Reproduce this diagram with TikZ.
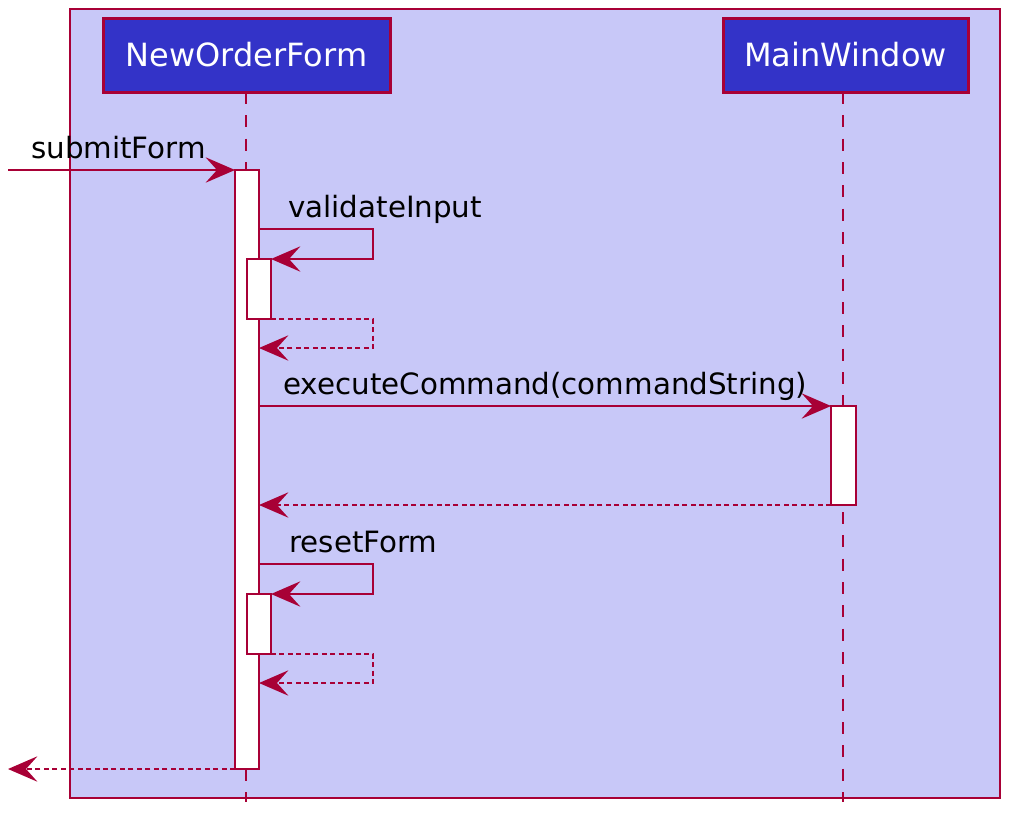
\documentclass[tikz,border=0pt]{standalone}
\usepackage{fontspec}
\setmainfont{DejaVu Sans}
\usepackage{tikz}
\usetikzlibrary{arrows.meta,calc}
\definecolor{umlred}{HTML}{A80036}
\definecolor{umlbg}{HTML}{C8C8F8}
\definecolor{umlblue}{HTML}{3333C8}

\tikzset{
  participant/.style={draw=umlred, fill=umlblue, line width=2.25pt, text=white,
    font=\fontsize{24}{28}\selectfont, minimum height=55.5pt, inner sep=0pt},
  actbar/.style={draw=umlred, fill=white, line width=1.6pt, minimum width=18pt,
    inner sep=0pt, outer sep=0pt, anchor=north},
  lifeline/.style={umlred, line width=1.6pt, dash pattern=on 9pt off 8.5pt},
  msg/.style={umlred, line width=1.6pt, -{Stealth[length=22pt,width=19pt,inset=8.5pt]}},
  reply/.style={msg, dash pattern=on 3.75pt off 2.6pt},
  lbl/.style={font=\fontsize{22}{26}\selectfont, inner sep=0pt, anchor=base west},
}

\begin{document}
\begin{tikzpicture}[x=0.75pt,y=-0.75pt]
    \useasboundingbox (0,0) rectangle (1023,839);
    \draw[umlred, fill=umlbg, line width=1.6pt] (70,9) rectangle (1000,798);
    % participants
    \coordinate (nofend) at (246,802);
    \coordinate (mwend) at (843,802);
    \draw[lifeline] (246,92) -- (nofend);
    \draw[lifeline] (843,92) -- (mwend);
    \node[participant, minimum width=215.25pt] (nof) at (246.5,55) {NewOrderForm};
    \node[participant, minimum width=183.75pt] (mw) at (845.5,55) {MainWindow};
    % activations
    \node[actbar, minimum height=449.25pt] (act1) at (247,170) {};
    \node[actbar, minimum height=45pt] (act2) at (259,259) {};
    \node[actbar, minimum height=74.25pt, minimum width=18.75pt] (act3) at (843.5,406) {};
    \node[actbar, minimum height=45pt] (act4) at (259,594) {};
    % messages
    \coordinate (src) at (8,170);
    \coordinate (dst) at (8,769);
    \draw[msg] (src) -- (act1.north west);
    \node[lbl] (l1) at (31,158) {submitForm};
    \draw[msg] (act1.east |- 0,229) -- ++(114,0) -- ++(0,30) -- (act2.north east);
    \node[lbl] (l2) at (288,217) {validateInput};
    \draw[reply] (act2.south east) -- ++(102,0) -- ++(0,29) -- (act1.east |- 0,348);
    \draw[msg] (act1.east |- act3.north) -- (act3.north west);
    \node[lbl] (l3) at (283,394) {executeCommand(commandString)};
    \draw[reply] (act3.south west) -- (act1.east |- act3.south);
    \draw[msg] (act1.east |- 0,564) -- ++(114,0) -- ++(0,30) -- (act4.north east);
    \node[lbl] (l4) at (289,552) {resetForm};
    \draw[reply] (act4.south east) -- ++(102,0) -- ++(0,29) -- (act1.east |- 0,683);
    \draw[reply] (act1.south west) -- (dst);
\end{tikzpicture}
\end{document}
